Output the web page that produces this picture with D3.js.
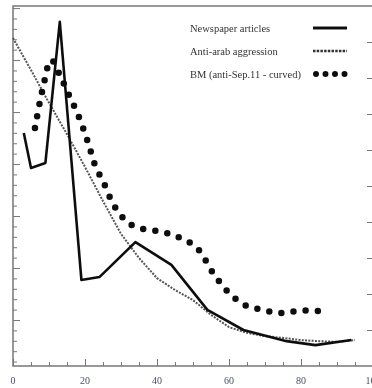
<!DOCTYPE html>
<html lang="en">
<head>
    <meta charset="UTF-8">
    <title>Newspaper articles vs aggression</title>
    <script src="https://d3js.org/d3.v7.min.js"></script>
    <style>
        body { margin: 0; background: #fff; }
        svg { display: block; }
    </style>
</head>
<body>
<svg id="chart" width="372" height="388"></svg>

<script>
    // series values
    const newsX = [3, 5, 9, 13, 19, 24, 34, 44, 54, 64, 76, 84, 94];
    const newsY = [64.7, 55, 56.4, 95.6, 23.9, 24.7, 34.4, 28.1, 15.6, 10, 6.9, 5.8, 7.2];

    const antiX = [0, 5, 10, 15, 20, 25, 30, 35, 40, 45, 50, 55, 60, 65, 70, 75, 80, 85, 90, 95];
    const antiY = [91.1, 82.2, 73.1, 64.4, 55.3, 45.8, 36.7, 30, 24.4, 21.1, 18.3, 14.2, 10.8, 9.2, 8.3, 7.8, 7.2, 6.9, 6.7, 7.2];

    const bmX = [6.1, 8.3, 10.6, 13.1, 15.3, 18.3, 20.8, 22.8, 25.6, 27.5, 29.7, 32.5, 36.1, 41.7, 46.4, 51.1, 55.6, 59.7, 64.4, 69.2, 74.2, 79.2, 84.7, 87.5];
    const bmY = [66.1, 77.2, 85, 80.6, 75.8, 69.2, 62.2, 55.8, 50, 45.6, 42.2, 39.4, 38.1, 37.2, 35.6, 32.8, 25.8, 20.6, 16.9, 15.6, 14.7, 15.3, 15.3, 14.7];

    const xTickLabels = [0, 20, 40, 60, 80, 100];
    const legendLabels = ["Newspaper articles", "Anti-arab aggression", "BM (anti-Sep.11 - curved)"];

    const LEFT = 13, RIGHT = 373, TOP = 6, BOTTOM = 366;
    const FRAME = '#777';
    const svg = d3.select('#chart');

    const x = d3.scaleLinear().domain([0, 100]).range([LEFT, RIGHT]);
    const y = d3.scaleLinear().domain([0, 100]).range([BOTTOM, TOP]);
    // left and right axes carry no labels, only ticks
    const yLeft = d3.scaleLinear().domain([-0.885, 6.04]).range([BOTTOM, TOP]);
    const yRight = d3.scaleLinear().domain([0, 10]).range([BOTTOM, TOP]);

    const blur = svg.append('defs').append('filter').attr('id', 'soft');
    blur.append('feGaussianBlur').attr('stdDeviation', 0.45);

    //-------------------------- AXES ---------------------------//
    const xAxis = d3.axisTop(x)
        .tickValues(d3.range(0, 101, 5))
        .tickSize(0)
        .tickFormat('');
    const gx = svg.append('g')
        .attr('transform', `translate(0, ${BOTTOM})`)
        .call(xAxis);
    gx.select('.domain').remove();
    gx.selectAll('.tick line')
        .attr('y2', d => d % 20 === 0 ? -7 : -4)
        .attr('stroke', FRAME);

    svg.append('g')
        .selectAll('text')
        .data(xTickLabels)
        .join('text')
        .attr('x', d => x(d))
        .attr('y', 384)
        .attr('text-anchor', 'middle')
        .attr('font-family', '"Liberation Serif", serif')
        .attr('font-size', 10)
        .attr('fill', '#4a4f60')
        .attr('filter', 'url(#soft)')
        .text(d => d);

    const gl = svg.append('g')
        .attr('transform', `translate(${LEFT}, 0)`)
        .call(d3.axisRight(yLeft).tickValues(d3.range(-0.8, 6.01, 0.2)).tickSize(0).tickFormat(''));
    gl.select('.domain').remove();
    gl.selectAll('.tick line')
        .attr('x2', d => Math.abs(d - Math.round(d)) < 0.01 ? 7 : 4)
        .attr('stroke', FRAME);

    const gr = svg.append('g')
        .attr('transform', `translate(${RIGHT}, 0)`)
        .call(d3.axisLeft(yRight).tickValues(d3.range(1, 10)).tickSize(6).tickFormat(''));
    gr.select('.domain').remove();
    gr.selectAll('.tick line').attr('stroke', FRAME);

    svg.append('rect')
        .attr('x', LEFT)
        .attr('y', TOP)
        .attr('width', RIGHT - LEFT)
        .attr('height', BOTTOM - TOP)
        .attr('fill', 'none')
        .attr('stroke', FRAME)
        .attr('stroke-width', 1.5);

    //-------------------------- LINES --------------------------//
    const plot = svg.append('g').attr('filter', 'url(#soft)');

    const antiLine = d3.line().x(d => x(d[0])).y(d => y(d[1]));
    plot.append('path')
        .datum(d3.zip(antiX, antiY))
        .attr('fill', 'none')
        .attr('stroke', '#555')
        .attr('stroke-width', 2)
        .attr('stroke-dasharray', '2 1.3')
        .attr('d', antiLine);

    const bmLine = d3.line().x(d => x(d[0])).y(d => y(d[1])).curve(d3.curveCatmullRom);
    plot.append('path')
        .datum(d3.zip(bmX, bmY))
        .attr('fill', 'none')
        .attr('stroke', '#111')
        .attr('stroke-width', 6.5)
        .attr('stroke-linecap', 'round')
        .attr('stroke-dasharray', '0 12.2')
        .attr('d', bmLine);

    const newsLine = d3.line().x(d => x(d[0])).y(d => y(d[1]));
    plot.append('path')
        .datum(d3.zip(newsX, newsY))
        .attr('fill', 'none')
        .attr('stroke', '#111')
        .attr('stroke-width', 2.6)
        .attr('stroke-linejoin', 'round')
        .attr('d', newsLine);

    //-------------------------- LEGEND -------------------------//
    const legend = svg.append('g').attr('filter', 'url(#soft)');
    const rowY = i => 28 + i * 23;

    legend.selectAll('text')
        .data(legendLabels)
        .join('text')
        .attr('x', 190)
        .attr('y', (d, i) => rowY(i) + 3.5)
        .attr('font-family', '"Liberation Serif", serif')
        .attr('font-size', 10.5)
        .attr('fill', '#333')
        .text(d => d);

    legend.append('line')
        .attr('x1', 313).attr('x2', 347)
        .attr('y1', rowY(0)).attr('y2', rowY(0))
        .attr('stroke', '#111').attr('stroke-width', 3);
    legend.append('line')
        .attr('x1', 313).attr('x2', 347)
        .attr('y1', rowY(1)).attr('y2', rowY(1))
        .attr('stroke', '#333').attr('stroke-width', 2.5)
        .attr('stroke-dasharray', '2.5 1.2');
    legend.append('line')
        .attr('x1', 316).attr('x2', 346)
        .attr('y1', rowY(2)).attr('y2', rowY(2))
        .attr('stroke', '#111').attr('stroke-width', 6)
        .attr('stroke-linecap', 'round')
        .attr('stroke-dasharray', '0 9.5');
</script>
</body>
</html>
